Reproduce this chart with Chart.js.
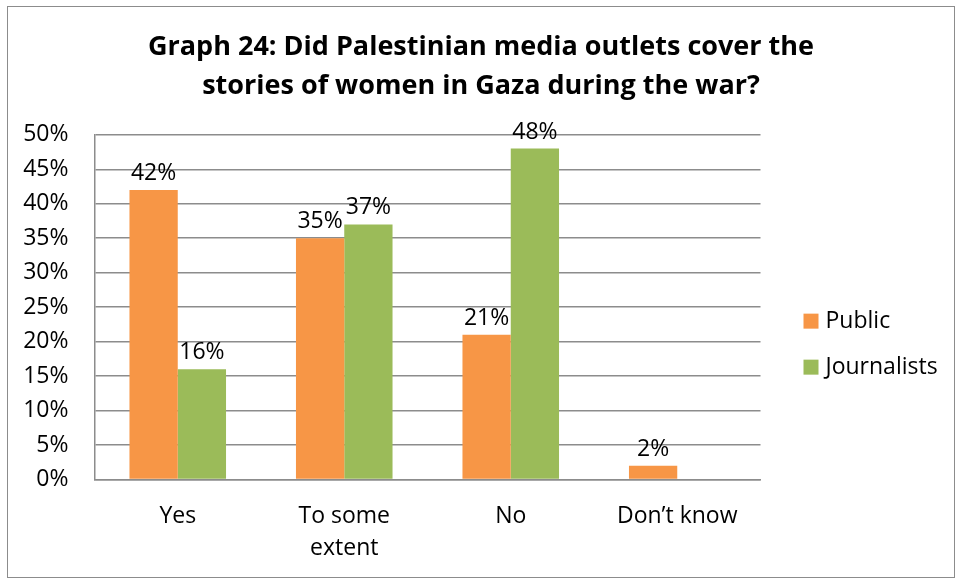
<!DOCTYPE html>
<html>
<head>
<meta charset="utf-8">
<script src="https://cdn.jsdelivr.net/npm/chart.js@4/dist/chart.umd.min.js"></script>
<style>
  html, body { margin: 0; padding: 0; background: #fff; }
  #frame {
    position: absolute; left: 7px; top: 6px;
    width: 946px; height: 570px;
    border: 1.5px solid #8c8c8c;
    background: #fff;
  }
  #main-graph { display: block; }
</style>
</head>
<body>
<div id="frame"><canvas id="main-graph" width="946" height="570"></canvas></div>
<script>
// data
const categories = ["Yes", ["To some", "extent"], "No", "Don\u2019t know"]
const publicValues = [42, 35, 21, 2]
const journalistValues = [16, 37, 48, 0]
const yTicks = [0, 5, 10, 15, 20, 25, 30, 35, 40, 45, 50]

const FontFamily = "'Open Sans', 'Noto Sans', sans-serif"
const TextFont = "23px " + FontFamily

// draws the percentage over each bar
const valueLabels = {
    id: "valueLabels",
    afterDatasetsDraw(chart) {
        const ctx = chart.ctx
        ctx.save()
        ctx.font = TextFont
        ctx.fillStyle = "#000"
        ctx.textAlign = "center"
        ctx.textBaseline = "bottom"
        chart.data.datasets.forEach((ds, i) => {
            chart.getDatasetMeta(i).data.forEach((bar, j) => {
                if (!ds.data[j]) return
                ctx.fillText(ds.data[j] + "%", bar.x, bar.y - 5)
            })
        })
        ctx.restore()
    }
}

// legend to the right of the plot, in the space kept by the "side" scale
const sideLegend = {
    id: "sideLegend",
    afterDraw(chart) {
        const ctx = chart.ctx
        const area = chart.chartArea
        const x = area.right + 43
        let y = (area.top + area.bottom) / 2 + 14
        ctx.save()
        ctx.font = TextFont
        ctx.textAlign = "left"
        ctx.textBaseline = "middle"
        chart.data.datasets.forEach(ds => {
            ctx.fillStyle = ds.backgroundColor
            ctx.fillRect(x, y - 7.5, 15, 15)
            ctx.fillStyle = "#000"
            ctx.fillText(ds.label, x + 22, y)
            y += 46
        })
        ctx.restore()
    }
}

const MainGraphCTX = document.getElementById("main-graph").getContext("2d")

new Chart(MainGraphCTX, {
    type: "bar",
    data: {
        labels: categories,
        datasets: [
            {
                label: "Public",
                data: publicValues,
                backgroundColor: "#f79646"
            },
            {
                label: "Journalists",
                data: journalistValues,
                backgroundColor: "#9bbb59"
            }
        ]
    },
    options: {
        responsive: false,
        animation: false,
        devicePixelRatio: 1,
        layout: { padding: 0 },
        datasets: {
            bar: { categoryPercentage: 0.58, barPercentage: 1 }
        },
        plugins: {
            title: {
                display: true,
                text: ["Graph 24: Did Palestinian media outlets cover the",
                       "stories of women in Gaza during the war?"],
                color: "#000",
                font: { family: FontFamily, size: 27, weight: "bold", lineHeight: 1.45 },
                padding: { top: 21, bottom: 28.5 }
            },
            legend: { display: false },
            tooltip: { enabled: false }
        },
        scales: {
            x: {
                afterFit: s => { s.height = 97.5 },
                grid: { display: false, drawTicks: false },
                border: { color: "#8c8c8c", width: 1.5 },
                ticks: {
                    color: "#000",
                    font: { family: FontFamily, size: 23, lineHeight: 1.4 },
                    padding: 21,
                    maxRotation: 0
                }
            },
            y: {
                min: 0,
                max: 50,
                afterBuildTicks: axis => { axis.ticks = yTicks.map(v => ({ value: v })) },
                afterFit: s => { s.width = 86.5 },
                grid: { color: "#8c8c8c", lineWidth: 1.5, drawTicks: false },
                border: { color: "#8c8c8c", width: 1.5 },
                ticks: {
                    color: "#000",
                    font: { family: FontFamily, size: 23 },
                    padding: 26,
                    callback: v => v + "%"
                }
            },
            // empty scale that keeps room for the legend on the right
            side: {
                type: "linear",
                position: "right",
                afterFit: s => { s.width = 193.5 },
                grid: { display: false, drawTicks: false },
                border: { display: false },
                ticks: { display: false }
            }
        }
    },
    plugins: [valueLabels, sideLegend]
})
</script>
</body>
</html>
